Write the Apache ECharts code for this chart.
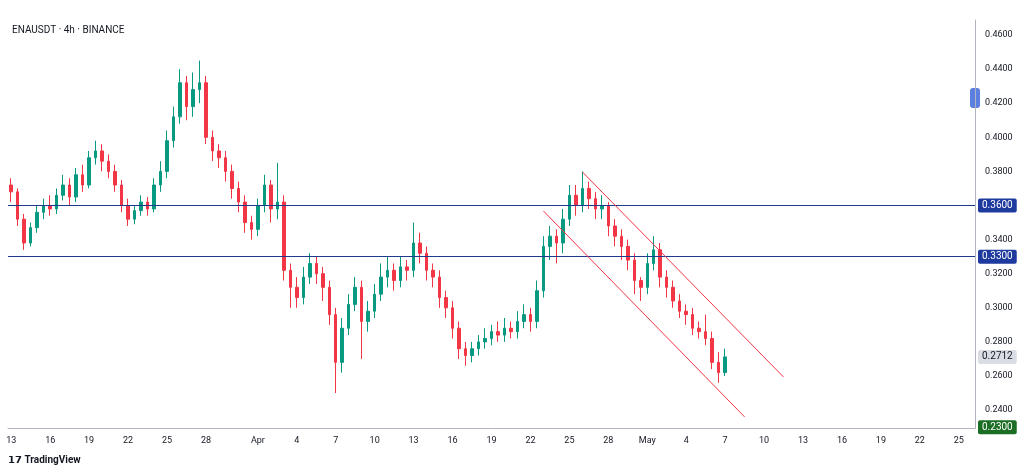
<!DOCTYPE html>
<html>
<head>
<meta charset="utf-8">
<script src="https://cdn.jsdelivr.net/npm/echarts@6/dist/echarts.min.js"></script>
<style>
  html, body { margin: 0; padding: 0; background: #fff; }
  #chart { width: 1024px; height: 472px; }
</style>
</head>
<body>
<div id="chart"></div>
<script>
// 12h candles from Mar 13 00:00, open = previous close
var firstOpen = 0.372;
var closes = [
  0.368,0.352, 0.338,0.347, 0.356,0.360, 0.358,0.366, 0.372,0.365, 0.378,0.372, 0.388,0.392,
  0.386,0.380, 0.372,0.360, 0.352,0.357, 0.362,0.358, 0.372,0.380, 0.398,0.412, 0.432,0.418,
  0.428,0.432, 0.400,0.392, 0.388,0.380, 0.370,0.362, 0.350,0.346, 0.360,0.372, 0.358,0.362,
  0.322,0.312, 0.306,0.318, 0.326,0.320, 0.312,0.296, 0.268,0.288, 0.302,0.312, 0.292,0.298,
  0.308,0.318, 0.322,0.316, 0.324,0.322, 0.338,0.332, 0.322,0.318, 0.306,0.300, 0.288,0.276,
  0.272,0.276, 0.280,0.282, 0.286,0.284, 0.288,0.286, 0.292,0.296, 0.292,0.310, 0.336,0.342,
  0.338,0.352, 0.366,0.360, 0.370,0.364, 0.358,0.360, 0.348,0.342, 0.336,0.328, 0.316,0.312,
  0.326,0.334, 0.318,0.312, 0.304,0.298, 0.296,0.288, 0.286,0.282, 0.268,0.262, 0.2712
];
var highs = [
  0.376,0.370, 0.355,0.350, 0.360,0.364, 0.366,0.370, 0.378,0.376, 0.382,0.384, 0.392,0.398,
  0.396,0.390, 0.384,0.375, 0.364,0.360, 0.366,0.365, 0.376,0.386, 0.404,0.418, 0.440,0.436,
  0.438,0.445, 0.436,0.404, 0.396,0.392, 0.384,0.374, 0.366,0.354, 0.364,0.378, 0.375,0.385,
  0.366,0.326, 0.318,0.324, 0.332,0.330, 0.324,0.316, 0.300,0.294, 0.308,0.318, 0.316,0.304,
  0.314,0.326, 0.330,0.326, 0.330,0.328, 0.350,0.344, 0.336,0.326, 0.322,0.310, 0.304,0.292,
  0.280,0.280, 0.284,0.288, 0.290,0.292, 0.294,0.292, 0.298,0.302, 0.300,0.316, 0.342,0.348,
  0.346,0.358, 0.372,0.372, 0.380,0.374, 0.368,0.366, 0.362,0.352, 0.346,0.340, 0.332,0.318,
  0.332,0.342, 0.338,0.322, 0.316,0.308, 0.302,0.300, 0.292,0.296, 0.286,0.274, 0.276
];
var lows = [
  0.362,0.348, 0.334,0.336, 0.344,0.352, 0.354,0.355, 0.363,0.360, 0.362,0.368, 0.370,0.384,
  0.380,0.376, 0.368,0.356, 0.348,0.349, 0.354,0.354, 0.356,0.368, 0.376,0.394, 0.408,0.410,
  0.412,0.420, 0.396,0.386, 0.382,0.374, 0.364,0.356, 0.344,0.340, 0.342,0.356, 0.350,0.352,
  0.316,0.300, 0.300,0.302, 0.314,0.314, 0.304,0.290, 0.250,0.262, 0.284,0.298, 0.270,0.286,
  0.294,0.304, 0.312,0.310, 0.312,0.316, 0.318,0.326, 0.316,0.312, 0.300,0.294, 0.282,0.270,
  0.266,0.268, 0.272,0.276, 0.278,0.280, 0.280,0.282, 0.282,0.288, 0.286,0.288, 0.306,0.328,
  0.326,0.332, 0.348,0.354, 0.356,0.358, 0.352,0.352, 0.342,0.336, 0.328,0.322, 0.308,0.304,
  0.308,0.322, 0.312,0.306, 0.300,0.294, 0.290,0.284, 0.282,0.278, 0.264,0.256, 0.260
];
var priceTicks = [0.24, 0.26, 0.28, 0.30, 0.32, 0.34, 0.36, 0.38, 0.40, 0.42, 0.44, 0.46];
var dateTicks = [
  ['3/13','13'],['3/16','16'],['3/19','19'],['3/22','22'],['3/25','25'],['3/28','28'],
  ['4/1','Apr'],['4/4','4'],['4/7','7'],['4/10','10'],['4/13','13'],['4/16','16'],['4/19','19'],
  ['4/22','22'],['4/25','25'],['4/28','28'],['5/1','May'],['5/4','4'],['5/7','7'],['5/10','10'],
  ['5/13','13'],['5/16','16'],['5/19','19'],['5/22','22'],['5/25','25']
];
var levels = [0.36, 0.33];
var upperChannel = [[88, 0.3797], [119, 0.2594]];
var lowerChannel = [[82, 0.3568], [113, 0.2360]];
var lastPrice = 0.2712;
var targetPrice = 0.23;

// category slots, 12h each, Mar 13 .. May 26
var cats = [];
var d = new Date(2025, 2, 13);
for (var i = 0; i < 149; i++) {
  var t = new Date(d.getTime() + i * 12 * 3600 * 1000);
  cats.push((t.getMonth() + 1) + '/' + t.getDate() + (t.getHours() === 0 ? '' : ' 12'));
}
var tickMap = {};
dateTicks.forEach(function(p) { tickMap[p[0]] = p[1]; });

var candles = [];
var prev = firstOpen;
for (var k = 0; k < closes.length; k++) {
  candles.push([prev, closes[k], lows[k], highs[k]]);
  prev = closes[k];
}

function tag(bg, color) {
  return { show: true, position: 'end', distance: 3, formatter: function(p) { return Number(p.value).toFixed(4); },
    backgroundColor: bg, color: color, padding: [2, 4], fontSize: 10, borderRadius: 2, fontFamily: 'Roboto' };
}
var hidden = { color: 'rgba(0,0,0,0)', width: 1, type: 'solid' };

var chart = echarts.init(document.getElementById('chart'));
chart.setOption({
  backgroundColor: '#ffffff',
  animation: false,
  grid: { left: 8, right: 49, top: 20, bottom: 44 },
  graphic: [
    { type: 'text', left: 12, top: 25, style: { text: 'ENAUSDT · 4h · BINANCE', fill: '#131722', font: '10px Roboto' } },
    { type: 'text', left: 8, top: 455, style: { text: '𝟭𝟳 TradingView', fill: '#131722', font: 'bold 10px Roboto' } },
    { type: 'rect', shape: { x: 970, y: 88, width: 10, height: 20, r: 3 }, style: { fill: '#5b7fe0' } }
  ],
  xAxis: {
    type: 'category', data: cats, boundaryGap: true,
    axisLine: { show: true, lineStyle: { color: '#b2b5be' } },
    axisTick: { show: false },
    axisLabel: {
      interval: function(idx, val) { return tickMap[val] !== undefined; },
      formatter: function(val) { return tickMap[val]; },
      color: '#131722', fontSize: 9, fontFamily: 'Roboto', margin: 8
    },
    splitLine: { show: false }
  },
  yAxis: {
    type: 'value', position: 'right', min: 0.2295, max: 0.4688, scale: true,
    axisLine: { show: true, lineStyle: { color: '#b2b5be' } },
    axisTick: { show: false },
    axisLabel: { customValues: priceTicks, formatter: function(v) { return v.toFixed(4); },
      color: '#131722', fontSize: 9, fontFamily: 'Roboto', margin: 10 },
    splitLine: { show: false }
  },
  series: [{
    type: 'candlestick', data: candles, barWidth: 3,
    itemStyle: { color: '#089981', color0: '#f23645', borderColor: '#089981', borderColor0: '#f23645', borderWidth: 1 },
    markLine: {
      symbol: 'none', silent: true, animation: false, precision: 4,
      data: [
        { yAxis: levels[0], lineStyle: { color: '#1e3a8a', width: 1.2, type: 'solid' }, label: tag('#1e3a9e', '#fff') },
        { yAxis: levels[1], lineStyle: { color: '#1e3a8a', width: 1.2, type: 'solid' }, label: tag('#1e3a9e', '#fff') },
        { yAxis: lastPrice, lineStyle: hidden, label: tag('#dadde3', '#131722') },
        { yAxis: targetPrice, lineStyle: hidden, label: tag('#1b6e23', '#fff') },
        [{ coord: [upperChannel[0][0], upperChannel[0][1]], lineStyle: { color: '#f23645', width: 1, type: 'solid' }, label: { show: false } },
         { coord: [upperChannel[1][0], upperChannel[1][1]] }],
        [{ coord: [lowerChannel[0][0], lowerChannel[0][1]], lineStyle: { color: '#f23645', width: 1, type: 'solid' }, label: { show: false } },
         { coord: [lowerChannel[1][0], lowerChannel[1][1]] }]
      ]
    }
  }]
});
</script>
</body>
</html>
